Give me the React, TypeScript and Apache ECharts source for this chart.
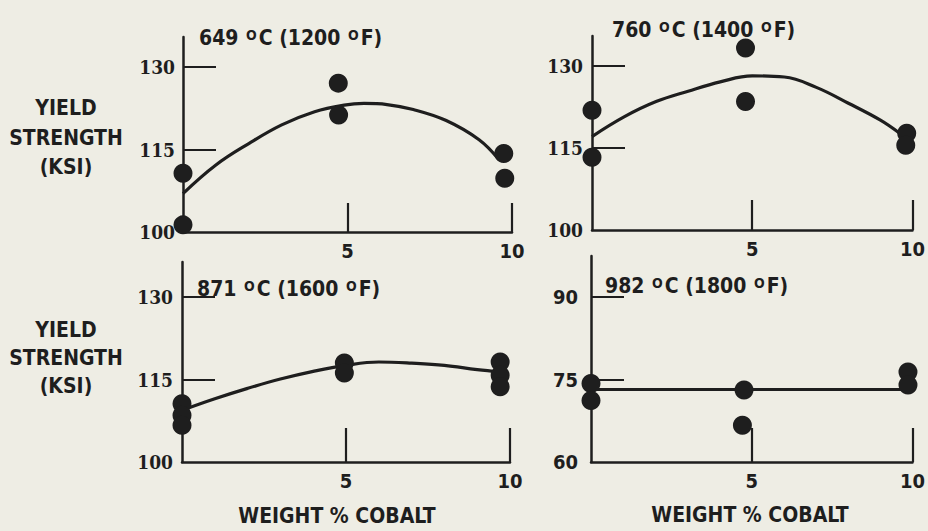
import React, { useEffect, useRef } from 'react';
import * as echarts from 'echarts';

const INK = '#1e1e1e';
const BG = '#eeede4';
const SANS = "'DejaVu Sans Condensed', 'Liberation Sans Narrow', 'DejaVu Sans', sans-serif";
const SERIF = "'DejaVu Serif Condensed', 'DejaVu Serif', 'Liberation Serif', serif";

// shared x axis (weight % cobalt)
const xTicks = [5, 10];

// panel titles
const tempsC = ['649', '760', '871', '982'];
const tempsF = ['1200', '1400', '1600', '1800'];

// y-axis tick values per panel
const yTicks1 = [100, 115, 130];
const yTicks2 = [100, 115, 130];
const yTicks3 = [100, 115, 130];
const yTicks4 = [60, 75, 90];

// measured points [wt% Co, yield strength ksi]
const points1: [number, number][] = [[0, 110.7], [0, 101.3], [4.72, 127.1], [4.73, 121.3], [9.75, 114.3], [9.78, 109.8]];
const points2: [number, number][] = [[0, 121.9], [0, 113.3], [4.79, 133.3], [4.79, 123.5], [9.82, 117.7], [9.79, 115.5]];
const points3: [number, number][] = [[0, 110.6], [0, 108.5], [0, 106.7], [4.95, 118.0], [4.95, 116.2], [9.7, 118.2], [9.7, 115.8], [9.7, 113.7]];
const points4: [number, number][] = [[0, 74.3], [0, 71.2], [4.76, 73.1], [4.71, 66.7], [9.86, 76.4], [9.86, 74.0]];

// fitted curves
const curve1: [number, number][] = [[0, 107.0], [1, 112.2], [2, 116.1], [3, 119.5], [4, 121.9], [4.9, 123.1], [5.5, 123.4], [6.2, 123.2], [7, 122.3], [8, 120.3], [9, 116.8], [9.6, 113.2]];
const curve2: [number, number][] = [[0, 117.1], [1, 120.7], [2, 123.5], [3, 125.4], [4, 127.1], [5, 128.2], [6, 128.0], [7, 126.1], [8, 123.2], [9, 120.1], [9.6, 117.7]];
const curve3: [number, number][] = [[0, 109.4], [1, 111.5], [2, 113.4], [3, 115.1], [4, 116.5], [5, 117.6], [6, 118.2], [7, 118.0], [8, 117.6], [9, 116.8], [9.7, 116.4]];
const curve4: [number, number][] = [[0, 73.2], [9.7, 73.2]];

const yTitle = 'YIELD\nSTRENGTH\n(KSI)';
const xTitle = 'WEIGHT % COBALT';

const panels = [
  { grid: { left: 183, top: 37, width: 329, height: 195 }, yMin: 100, yMax: 135.5, yTicks: yTicks1, points: points1, curve: curve1, yFont: SERIF, yFontSize: 19, yMargin: 8, xTickLen: 29, titlePos: [199, 37.5] },
  { grid: { left: 592, top: 36, width: 327, height: 194 }, yMin: 100, yMax: 135.5, yTicks: yTicks2, points: points2, curve: curve2, yFont: SERIF, yFontSize: 19, yMargin: 9, xTickLen: 30, titlePos: [612, 30] },
  { grid: { left: 182, top: 262, width: 328, height: 200 }, yMin: 100, yMax: 136.4, yTicks: yTicks3, points: points3, curve: curve3, yFont: SERIF, yFontSize: 19, yMargin: 9, xTickLen: 34, titlePos: [197, 288.5] },
  { grid: { left: 591, top: 256, width: 324, height: 206 }, yMin: 60, yMax: 97.5, yTicks: yTicks4, points: points4, curve: curve4, yFont: SANS, yFontSize: 20, yMargin: 13, xTickLen: 34, titlePos: [605, 286] },
];

export default function App() {
  const ref = useRef<HTMLDivElement>(null);
  useEffect(() => {
    if (!ref.current) return;
    const chart = echarts.init(ref.current, undefined, { renderer: 'svg' });
    const grids = panels.map((p) => ({ ...p.grid, containLabel: false }));
    const xAxes = panels.map((p, i) => ({
      type: 'value', gridIndex: i, min: 0, max: 10,
      axisLine: { show: true, onZero: false, lineStyle: { color: INK, width: 2.5 } },
      axisTick: { show: true, inside: true, length: p.xTickLen, customValues: xTicks, lineStyle: { color: INK, width: 2.2 } },
      axisLabel: { customValues: xTicks, color: INK, fontFamily: SANS, fontSize: 20, fontWeight: 'bold', margin: 9 },
      splitLine: { show: false },
    }));
    const yAxes = panels.map((p, i) => ({
      type: 'value', gridIndex: i, min: p.yMin, max: p.yMax,
      axisLine: { show: true, onZero: false, lineStyle: { color: INK, width: 2.5 } },
      axisTick: { show: true, inside: true, length: 33, customValues: p.yTicks.slice(1), lineStyle: { color: INK, width: 2.2 } },
      axisLabel: { customValues: p.yTicks, color: INK, fontFamily: p.yFont, fontSize: p.yFontSize, fontWeight: 'bold', margin: p.yMargin },
      splitLine: { show: false },
    }));
    const series: any[] = [];
    panels.forEach((p, i) => {
      series.push({
        type: 'line', xAxisIndex: i, yAxisIndex: i, data: p.curve, smooth: 0.4,
        showSymbol: false, symbol: 'none', lineStyle: { color: INK, width: 3.2 }, z: 2, silent: true,
      });
      series.push({
        type: 'scatter', xAxisIndex: i, yAxisIndex: i, data: p.points, symbolSize: 19,
        itemStyle: { color: INK, opacity: 1 }, z: 3, silent: true,
      });
    });
    const rich = {
      a: { fontFamily: SANS, fontSize: 21, fontWeight: 'bold', lineHeight: 24, fill: INK },
      s: { fontFamily: SANS, fontSize: 14, fontWeight: 'bold', lineHeight: 14, fill: INK, verticalAlign: 'top', padding: [2, 2, 0, 1] },
    };
    const titles = panels.map((p, i) => ({
      type: 'text', x: p.titlePos[0], y: p.titlePos[1],
      style: {
        text: `{a|${tempsC[i]} }{s|O}{a|C (${tempsF[i]} }{s|O}{a|F)}`,
        rich, textVerticalAlign: 'middle', textAlign: 'left', fill: INK,
      },
    }));
    const labelStyle = { fontFamily: SANS, fontSize: 21, fontWeight: 'bold', textAlign: 'center', textVerticalAlign: 'middle', fill: INK };
    const graphic: any[] = [
      ...titles,
      { type: 'text', x: 66, y: 137.5, style: { ...labelStyle, text: yTitle, lineHeight: 29.5 } },
      { type: 'text', x: 66, y: 357.5, style: { ...labelStyle, text: yTitle, lineHeight: 28 } },
      { type: 'text', x: 337, y: 516, style: { ...labelStyle, text: xTitle } },
      { type: 'text', x: 750, y: 515, style: { ...labelStyle, text: xTitle } },
    ];
    chart.setOption({
      animation: false,
      backgroundColor: BG,
      grid: grids,
      xAxis: xAxes,
      yAxis: yAxes,
      series,
      graphic,
    });
    return () => chart.dispose();
  }, []);
  return <div ref={ref} style={{ position: 'fixed', left: 0, top: 0, width: 928, height: 531 }} />;
}
